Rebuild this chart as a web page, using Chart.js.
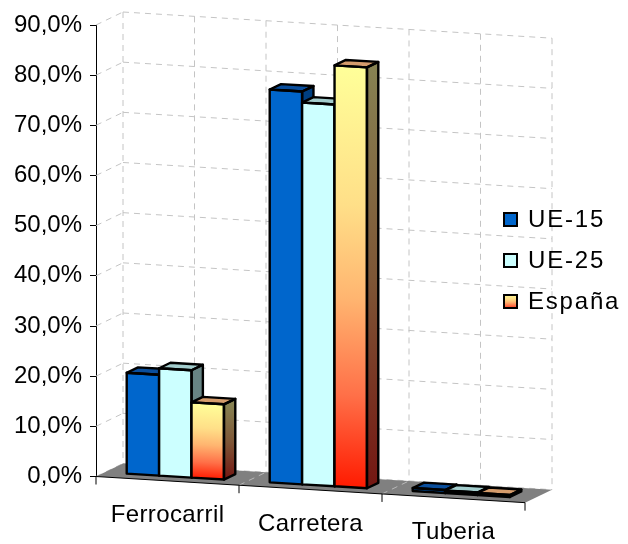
<!DOCTYPE html>
<html>
<head>
<meta charset="utf-8">
<script src="https://cdn.jsdelivr.net/npm/chart.js@4.4.0/dist/chart.umd.min.js"></script>
<style>
  html, body { margin: 0; padding: 0; background: #ffffff; }
  #c { display: block; }
</style>
</head>
<body>
<canvas id="c" width="628" height="544"></canvas>
<script>
// Modal share of freight transport by mode
const categories = ['Ferrocarril', 'Carretera', 'Tuberia'];
const seriesNames = ['UE-15', 'UE-25', 'España'];
const ue15 = [20.2, 78.4, 0.7];
const ue25 = [21.5, 76.2, 0.6];
const espana = [15.1, 84.0, 0.5];
const yTickLabels = ['0,0%', '10,0%', '20,0%', '30,0%', '40,0%', '50,0%', '60,0%', '70,0%', '80,0%', '90,0%'];

const FONT = "'Liberation Sans', Arial, sans-serif";

// Oblique 3D projection: floor slope and depth vector of the plot box
const SLOPE = 0.061;
const DEPTH = { x: 27, y: -13 };
const F0 = 0.29;   // front of the columns (fraction of depth)
const F1 = 0.71;   // back of the columns

const FIRE_STOPS = [[0, '#FFFF99'], [0.33, '#FFDF88'], [0.55, '#FFB570'], [0.78, '#FF7048'], [1, '#FF1A00']];
const FIRE_SIDE = [[0, '#878252'], [0.5, '#7E5636'], [1, '#741612']];

const FACES = [
  { front: '#0066CC', top: '#0A4E9C', side: '#003F80' },
  { front: '#CCFFFF', top: '#A3CDCD', side: '#678484' },
  { front: null,      top: '#D59C6C', side: null }
];

function gradient(ctx, y0, y1, stops) {
  const g = ctx.createLinearGradient(0, y0, 0, y1);
  stops.forEach(s => g.addColorStop(s[0], s[1]));
  return g;
}

function project(chart, x, y, f) {
  const L = chart.chartArea.left;
  return [x + f * DEPTH.x, y + SLOPE * (x - L) + f * DEPTH.y];
}

function poly(ctx, pts) {
  ctx.beginPath();
  ctx.moveTo(pts[0][0], pts[0][1]);
  for (let i = 1; i < pts.length; i++) ctx.lineTo(pts[i][0], pts[i][1]);
  ctx.closePath();
}

function line(ctx, a, b) {
  ctx.beginPath();
  ctx.moveTo(a[0], a[1]);
  ctx.lineTo(b[0], b[1]);
  ctx.stroke();
}

const scene3d = {
  id: 'scene3d',
  beforeDatasetsDraw(chart) {
    const ctx = chart.ctx;
    const { left: L, right: R, top: T, bottom: B } = chart.chartArea;
    const yScale = chart.scales.y;
    const P = (x, y, f) => project(chart, x, y, f);

    ctx.save();
    // walls: dashed gridlines
    ctx.strokeStyle = '#C4C4C4';
    ctx.lineWidth = 1;
    ctx.setLineDash([6, 5]);
    yScale.ticks.forEach(t => {
      const y = yScale.getPixelForValue(t.value);
      line(ctx, P(L, y, 0), P(L, y, 1));
      line(ctx, P(L, y, 1), P(R, y, 1));
    });
    for (let k = 0; k <= 6; k++) {
      const x = L + k * (R - L) / 6;
      line(ctx, P(x, T, 1), P(x, B, 1));
    }
    ctx.setLineDash([]);

    // floor
    ctx.fillStyle = '#808080';
    poly(ctx, [P(L, B, 0), P(R, B, 0), P(R, B, 1), P(L, B, 1)]);
    ctx.fill();
    ctx.strokeStyle = '#B8B8B8';
    ctx.setLineDash([6, 5]);
    for (let k = 1; k < 3; k++) {
      const x = L + k * (R - L) / 3;
      line(ctx, P(x, B, 0), P(x, B, 1));
    }
    ctx.setLineDash([]);

    // category axis along the front edge of the floor
    ctx.strokeStyle = '#000000';
    ctx.lineWidth = 1;
    line(ctx, P(L, B, 0), P(R, B, 0));
    for (let k = 0; k <= 3; k++) {
      const x = L + k * (R - L) / 3;
      const p = P(x, B, 0);
      line(ctx, p, [p[0], p[1] + 8]);
    }

    // category labels
    ctx.fillStyle = '#000000';
    ctx.font = '24px ' + FONT;
    ctx.textAlign = 'center';
    ctx.textBaseline = 'alphabetic';
    if ('letterSpacing' in ctx) ctx.letterSpacing = '0.4px';
    categories.forEach((c, i) => {
      const x = chart.scales.x.getPixelForValue(i);
      const p = P(x, B, 0);
      ctx.fillText(c, p[0], p[1] + 41);
    });
    ctx.restore();
  },
  // columns are painted back-to-front in afterDatasetsDraw
  beforeDatasetDraw() {
    return false;
  },
  afterDatasetsDraw(chart) {
    const ctx = chart.ctx;
    const L = chart.chartArea.left;
    const P = (x, y, f) => project(chart, x, y, f);
    const n = chart.data.datasets.length;
    for (let d = 0; d < n; d++) {
      const meta = chart.getDatasetMeta(d);
      if (!meta.visible) continue;
      const face = FACES[d];
      meta.data.forEach(bar => {
        // front face: the bar element itself, in the sheared front plane
        ctx.save();
        ctx.transform(1, SLOPE, 0, 1, F0 * DEPTH.x, F0 * DEPTH.y - SLOPE * L);
        bar.draw(ctx, chart.chartArea);
        ctx.restore();

        const { x, y, base, width } = bar.getProps(['x', 'y', 'base', 'width'], true);
        const xl = x - width / 2, xr = x + width / 2;
        const A = P(xl, y, F0), Bp = P(xr, y, F0), C = P(xr, base, F0), D = P(xl, base, F0);
        const Ab = P(xl, y, F1), Bb = P(xr, y, F1), Cb = P(xr, base, F1);

        ctx.save();
        ctx.fillStyle = face.top;
        poly(ctx, [A, Bp, Bb, Ab]);
        ctx.fill();

        ctx.fillStyle = face.side || gradient(ctx, Bp[1], C[1], FIRE_SIDE);
        poly(ctx, [Bp, Bb, Cb, C]);
        ctx.fill();

        ctx.strokeStyle = '#000000';
        ctx.lineWidth = 2.4;
        ctx.lineJoin = 'round';
        poly(ctx, [A, Bp, C, D]); ctx.stroke();
        poly(ctx, [A, Bp, Bb, Ab]); ctx.stroke();
        poly(ctx, [Bp, Bb, Cb, C]); ctx.stroke();
        ctx.restore();
      });
    }
  },
  afterDraw(chart) {
    // legend
    const ctx = chart.ctx;
    const baselines = [227, 268, 309];
    ctx.save();
    ctx.font = '24px ' + FONT;
    ctx.textAlign = 'left';
    ctx.textBaseline = 'alphabetic';
    if ('letterSpacing' in ctx) ctx.letterSpacing = '1.8px';
    seriesNames.forEach((name, i) => {
      const by = baselines[i] - 15;
      ctx.fillStyle = FACES[i].front || gradient(ctx, by, by + 15, FIRE_STOPS);
      ctx.fillRect(503, by, 15, 15);
      ctx.strokeStyle = '#000000';
      ctx.lineWidth = 2;
      ctx.strokeRect(504, by + 1, 13, 13);
      ctx.fillStyle = '#000000';
      ctx.fillText(name, 528, baselines[i]);
    });
    ctx.restore();
  }
};

function fireFront(context) {
  const fallback = '#FFCC77';
  if (context.type !== 'data' || context.raw === undefined) return fallback;
  const chart = context.chart;
  const ys = chart.scales && chart.scales.y;
  if (!ys) return fallback;
  const top = ys.getPixelForValue(context.raw);
  const bottom = ys.getPixelForValue(0);
  if (!isFinite(top) || !isFinite(bottom) || top === bottom) return fallback;
  return gradient(chart.ctx, top, bottom, FIRE_STOPS);
}

new Chart(document.getElementById('c'), {
  type: 'bar',
  data: {
    labels: categories,
    datasets: [
      { label: seriesNames[0], data: ue15, backgroundColor: FACES[0].front },
      { label: seriesNames[1], data: ue25, backgroundColor: FACES[1].front },
      { label: seriesNames[2], data: espana, backgroundColor: fireFront }
    ]
  },
  options: {
    responsive: false,
    animation: false,
    events: [],
    layout: { padding: { left: 0, right: 103, top: 25, bottom: 67.5 } },
    datasets: {
      bar: { categoryPercentage: 0.68, barPercentage: 1.0, borderWidth: 0, clip: false }
    },
    scales: {
      x: { display: false, offset: true },
      y: {
        min: 0,
        max: 90,
        ticks: {
          stepSize: 10,
          color: '#000000',
          padding: 8,
          font: { family: FONT, size: 24 },
          callback: (v, i) => yTickLabels[i]
        },
        grid: { drawOnChartArea: false, drawTicks: true, tickLength: 6, color: '#000000', lineWidth: 1 },
        border: { display: true, color: '#000000', width: 1 },
        afterFit: s => { s.width = 96; }
      }
    },
    plugins: {
      legend: { display: false },
      tooltip: { enabled: false }
    }
  },
  plugins: [scene3d]
});
</script>
</body>
</html>
